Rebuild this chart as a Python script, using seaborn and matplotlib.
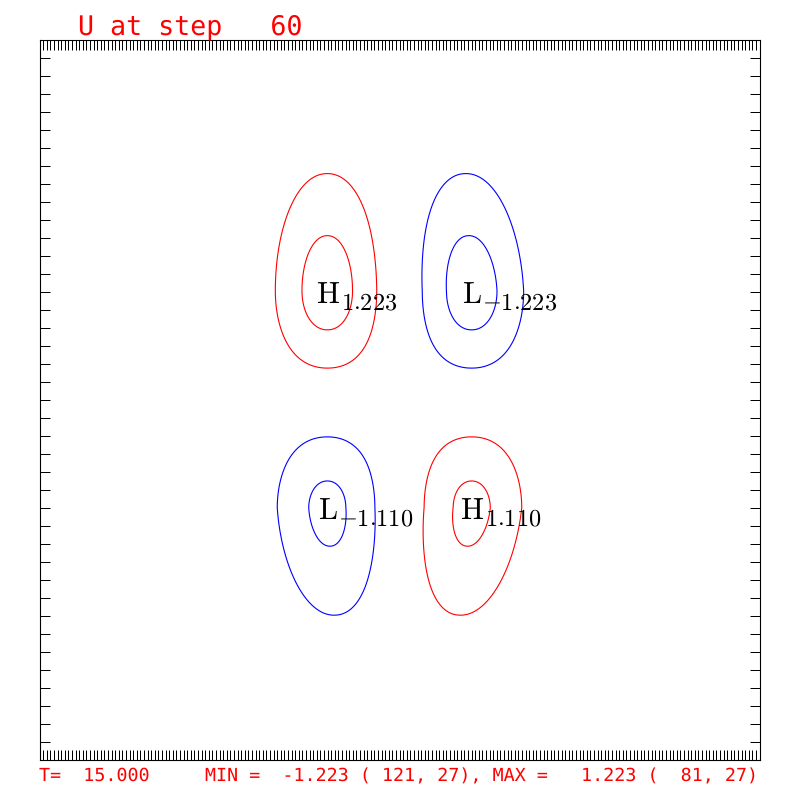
import numpy as np
import matplotlib
matplotlib.use('Agg')
import matplotlib.pyplot as plt
import seaborn as sns

# grid of the model output (index units, as in the MIN/MAX line)
NX = 201
NY = 41

# the four extrema
center_i = [81, 121, 81, 121]
center_j = [27, 27, 15, 15]
peak = [1.223, -1.223, -1.110, 1.110]
# shape of each cell (grid units): width, extent up / down, lean of the long end
sigma_x = [11.0, 11.0, 11.2, 11.2]
sigma_up = [4.9, 4.9, 3.5, 3.5]
sigma_down = [3.55, 3.55, 4.75, 4.75]
lean = [0.0, -0.25, -0.35, 0.55]
x_power = 2.1

levels = [-1.0, -0.5, 0.5, 1.0]
level_colors = ['blue', 'blue', 'red', 'red']

title = 'U at step   60'
footer = 'T=  15.000     MIN =  -1.223 ( 121, 27), MAX =   1.223 (  81, 27)'


def cell(X, Y, ci, cj, a, sx, su, sd, k):
    dy = Y - cj
    sy = np.where(dy > 0, su, sd)
    long_side = dy > 0 if su > sd else dy < 0
    dx = X - ci - np.where(long_side, k * dy, 0.0)
    return a * np.exp(-0.5 * np.abs(dx / sx) ** x_power - 0.5 * (dy / sy) ** 2)


x = np.linspace(1, NX, 801)
y = np.linspace(1, NY, 481)
X, Y = np.meshgrid(x, y)
U = np.zeros_like(X)
for p in zip(center_i, center_j, peak, sigma_x, sigma_up, sigma_down, lean):
    U += cell(X, Y, *p)

sns.set_theme(style='white')
plt.rcParams['mathtext.fontset'] = 'cm'
plt.rcParams['text.hinting'] = 'no_hinting'

fig = plt.figure(figsize=(8, 8), dpi=100)
ax = fig.add_axes([39.5 / 800, 40.5 / 800, 720 / 800, 720 / 800])

ax.contour(X, Y, U, levels=levels, colors=level_colors,
           linewidths=0.8, linestyles='solid')

# H / L markers with the extreme value as a subscript
for ci, cj, a in zip(center_i, center_j, peak):
    letter = 'H' if a > 0 else 'L'
    ax.annotate(r'$\mathrm{%s}$' % letter, xy=(ci, cj), xytext=(0, -8.0),
                textcoords='offset points', ha='center', va='baseline',
                fontsize=22, color='black')
    sub_dx = 9.4 if letter == 'H' else 7.9
    ax.annotate(r'$%.3f$' % a, xy=(ci, cj), xytext=(sub_dx, -13.0),
                textcoords='offset points', ha='left', va='baseline',
                fontsize=17.5, color='black')

ax.set_xlim(1, NX)
ax.set_ylim(1, NY)
ax.set_xticks(np.arange(1, NX + 1))
ax.set_yticks(np.arange(1, NY + 1))
ax.tick_params(direction='in', length=7.2, width=0.72, color='black',
               top=True, bottom=True, left=True, right=True,
               labelbottom=False, labelleft=False)
for s in ax.spines.values():
    s.set_color('black')
    s.set_linewidth(0.8)

fig.text(78.5 / 800, 1 - 34 / 800, title, family='DejaVu Sans Mono',
         fontsize=19.2, color='red', va='baseline', ha='left')
fig.text(39 / 800, 1 - 781.5 / 800, footer, family='DejaVu Sans Mono',
         fontsize=13.2, color='red', va='baseline', ha='left')

fig.savefig('out.png', dpi=100, facecolor='white')
